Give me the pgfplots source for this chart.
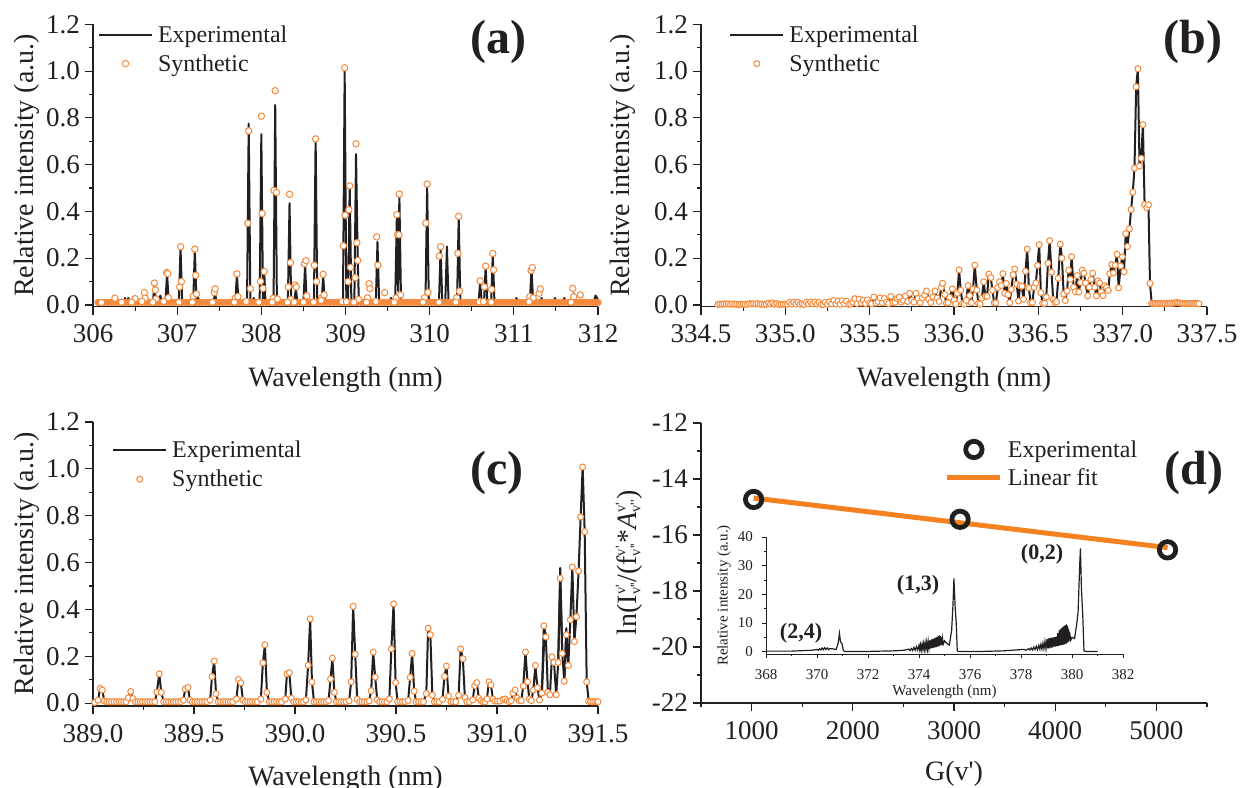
\documentclass[border=0pt]{standalone}
\usepackage{fontspec}
\setmainfont{Liberation Serif}
\usepackage{pgfplots}
\pgfplotsset{compat=1.18}
\usepackage{pgfplotstable}
\definecolor{ink}{HTML}{231F20}
\definecolor{org}{HTML}{F58A3C}
\definecolor{fitc}{HTML}{F58220}
\newcommand{\bigf}{\fontsize{27}{29}\selectfont}
\newcommand{\labf}{\fontsize{28}{30}\selectfont}
\newcommand{\legf}{\fontsize{24}{26}\selectfont}
\newcommand{\smf}{\fontsize{15}{17}\selectfont}
\newcommand{\pr}{\textquotesingle}
\newcommand{\lvl}{\rlap{\raisebox{11pt}{\fontsize{14.5}{15}\selectfont v\pr}}\raisebox{-4pt}{\fontsize{14.5}{15}\selectfont v\pr\pr}}
\pgfplotsset{
  panel/.style={scale only axis, axis lines=left, axis line style={-,line width=1.2pt,ink},
    tick style={line width=1.1pt,ink}, tick align=outside, major tick length=8pt, minor tick length=4pt,
    clip=false, text=ink,
    tick label style={font=\bigf,inner sep=0pt,text=ink},
    xticklabel style={yshift=-10pt}, yticklabel style={xshift=-5pt},
    every axis y label/.style={at={(axis description cs:0,0.5)},rotate=90,anchor=center},
    every axis x label/.style={at={(axis description cs:0.5,0)},anchor=center},
    label style={font=\labf,text=ink},
    legend cell align=left,
    legend image code/.code={\draw[mark repeat=2,mark phase=2,##1] plot coordinates {(0pt,0pt)(26.5pt,0pt)(53pt,0pt)};},
    legend style={draw=none,fill=none,font=\legf,text=ink,anchor=north west,inner sep=0pt,outer sep=0pt,row sep=7pt,
      /tikz/every odd column/.append style={column sep=3pt}}
  },
  speca/.style={panel,width=505pt,height=282.4pt,ymin=-.0073,ymax=1.2,
    ytick={0,.2,.4,.6,.8,1,1.2},yticklabels={0.0,0.2,0.4,0.6,0.8,1.0,1.2},minor ytick={.1,.3,.5,.7,.9,1.1},
    ylabel={Relative intensity (a.u.)},xlabel={Wavelength (nm)}},
  expl/.style={ink,line width=2pt,no marks,line join=round},
  syn/.style={only marks,mark=*,mark size=3pt,mark options={draw=org,fill=white,line width=1pt}},
}
\pgfplotstableread[row sep=\\]{x y\\
334.600 .002\\334.612 .004\\334.625 .003\\334.637 .005\\334.650 .004\\334.662 .005\\334.675 .003\\334.687 .005\\334.700 .003\\334.712 .003\\334.725 .002\\334.737 .003\\334.750 .003\\334.762 .003\\334.775 .003\\334.787 .006\\334.800 .004\\334.812 .006\\334.825 .004\\334.837 .006\\334.850 .003\\334.862 .004\\334.875 .002\\334.887 .003\\334.900 .008\\334.912 .004\\334.925 .009\\334.937 .003\\334.950 .006\\334.962 .002\\334.975 .003\\334.987 .003\\
335.000 .004\\335.012 .004\\335.025 .011\\335.037 .004\\335.050 .012\\335.062 .004\\335.075 .011\\335.087 .003\\335.100 .005\\335.112 .002\\335.125 .012\\335.137 .005\\335.150 .012\\335.162 .005\\335.175 .012\\335.187 .004\\335.200 .011\\335.212 .002\\335.225 .002\\335.237 .011\\335.250 .003\\335.262 .014\\335.275 .005\\335.287 .020\\335.300 .004\\335.312 .017\\335.325 .003\\335.337 .018\\335.350 .005\\335.362 .016\\335.375 .003\\335.387 .004\\335.400 .012\\335.412 .027\\335.425 .006\\335.437 .025\\335.450 .008\\335.462 .020\\335.475 .006\\335.487 .022\\335.500 .008\\335.512 .005\\335.525 .034\\335.537 .008\\335.550 .015\\335.562 .030\\335.575 .010\\335.587 .028\\335.600 .012\\335.612 .006\\335.625 .037\\335.637 .010\\335.650 .012\\335.662 .028\\335.675 .034\\335.687 .012\\335.700 .020\\335.712 .038\\335.725 .015\\335.737 .050\\335.750 .020\\335.762 .012\\335.775 .050\\335.787 .028\\335.800 .010\\335.812 .030\\335.825 .042\\335.837 .060\\335.850 .025\\335.862 .010\\335.875 .035\\335.887 .060\\335.900 .030\\335.912 .015\\335.925 .075\\335.932 .093\\335.945 .045\\335.955 .008\\335.965 .010\\335.975 .033\\335.990 .069\\
336.000 .021\\336.010 .004\\336.020 .050\\336.030 .150\\336.040 .063\\336.050 .007\\336.060 .004\\336.073 .020\\336.083 .083\\336.093 .040\\336.103 .010\\336.113 .069\\336.123 .170\\336.135 .064\\336.145 .007\\336.155 .004\\336.165 .029\\336.176 .099\\336.186 .037\\336.196 .037\\336.206 .132\\336.218 .117\\336.228 .063\\336.238 .009\\336.248 .009\\336.260 .074\\336.270 .099\\336.280 .083\\336.290 .134\\336.300 .050\\336.310 .092\\336.320 .044\\336.330 .010\\336.340 .067\\336.350 .129\\336.360 .154\\336.372 .089\\336.382 .017\\336.392 .082\\336.402 .080\\336.412 .024\\336.424 .144\\336.434 .239\\336.444 .073\\336.454 .009\\336.465 .011\\336.475 .076\\336.485 .094\\336.495 .169\\336.505 .258\\336.515 .053\\336.525 .007\\336.537 .007\\336.547 .034\\336.557 .179\\336.567 .275\\336.578 .140\\336.588 .023\\336.598 .011\\336.608 .014\\336.618 .114\\336.630 .260\\336.640 .200\\336.650 .047\\336.660 .019\\336.670 .060\\336.680 .149\\336.690 .110\\336.697 .207\\
336.709 .076\\336.720 .057\\336.730 .126\\336.740 .056\\336.750 .096\\336.760 .149\\336.770 .136\\336.780 .094\\336.792 .039\\336.802 .076\\336.812 .109\\336.822 .136\\336.834 .076\\336.844 .039\\336.853 .103\\336.863 .094\\336.873 .056\\336.883 .040\\336.893 .083\\336.904 .075\\336.915 .062\\336.923 .133\\336.935 .173\\336.945 .137\\336.956 .170\\336.966 .217\\336.976 .073\\336.988 .167\\336.998 .206\\337.008 .142\\337.018 .305\\337.028 .250\\337.040 .326\\337.050 .408\\337.060 .482\\337.070 .585\\337.080 .933\\337.090 1.010\\337.100 .594\\337.110 .627\\337.120 .771\\337.130 .429\\337.143 .416\\337.153 .429\\337.162 .092\\337.172 .007\\
337.182 .006\\337.192 .006\\337.202 .006\\337.212 .006\\337.222 .006\\337.232 .006\\337.242 .006\\337.252 .006\\337.262 .006\\337.272 .006\\337.282 .007\\337.292 .007\\337.302 .008\\337.312 .010\\337.322 .011\\337.332 .009\\337.342 .008\\337.352 .007\\337.362 .006\\337.372 .006\\337.382 .006\\337.392 .006\\337.402 .006\\337.412 .006\\337.422 .006\\337.432 .006\\337.442 .006\\337.452 .005\\
}\tabB
\pgfplotstableread[row sep=\\]{x y\\
389.008 .003\\389.025 .013\\389.035 .063\\389.046 .056\\389.056 .010\\389.068 .006\\389.080 .006\\389.092 .006\\389.104 .006\\389.116 .006\\389.128 .006\\389.140 .006\\389.152 .006\\389.164 .006\\389.175 .023\\389.187 .050\\389.197 .020\\389.210 .006\\389.222 .006\\389.234 .006\\389.246 .006\\389.258 .006\\389.270 .006\\389.282 .006\\389.294 .006\\389.306 .006\\389.316 .047\\389.328 .125\\389.338 .046\\389.350 .006\\389.362 .006\\389.374 .006\\389.386 .006\\389.398 .006\\389.410 .006\\389.422 .006\\389.434 .006\\389.447 .013\\389.457 .061\\389.470 .067\\389.480 .013\\389.492 .006\\389.504 .006\\389.516 .006\\389.528 .006\\389.540 .006\\389.552 .006\\389.564 .006\\389.580 .013\\389.589 .113\\389.600 .180\\389.609 .040\\389.620 .006\\389.632 .006\\389.644 .006\\389.656 .006\\389.668 .006\\389.680 .006\\389.692 .006\\389.710 .018\\389.720 .101\\389.732 .087\\389.742 .014\\389.754 .006\\389.766 .006\\389.778 .006\\389.790 .006\\389.802 .006\\389.814 .006\\389.831 .018\\389.841 .172\\389.851 .249\\389.861 .046\\389.873 .006\\389.885 .006\\389.897 .006\\389.909 .006\\389.921 .006\\389.933 .006\\389.952 .018\\389.960 .125\\389.972 .130\\389.982 .021\\389.994 .006\\390.006 .006\\390.018 .006\\390.030 .006\\390.042 .006\\390.054 .014\\390.065 .162\\390.075 .360\\390.084 .090\\390.094 .006\\390.106 .006\\390.118 .006\\390.130 .006\\390.142 .006\\390.154 .006\\390.166 .011\\390.176 .103\\390.185 .192\\390.195 .046\\390.205 .006\\390.217 .006\\390.229 .006\\390.241 .006\\390.253 .006\\390.268 .010\\390.278 .091\\390.288 .413\\390.298 .209\\390.308 .017\\390.320 .006\\390.332 .006\\390.344 .006\\390.356 .006\\390.367 .010\\390.377 .053\\390.387 .218\\390.397 .111\\390.407 .014\\390.419 .006\\390.431 .006\\390.443 .006\\390.455 .006\\390.467 .018\\390.477 .232\\390.488 .424\\390.498 .088\\390.508 .006\\390.520 .006\\390.532 .006\\390.544 .006\\390.560 .011\\390.570 .110\\390.580 .212\\390.590 .051\\390.600 .006\\390.612 .006\\390.624 .006\\390.636 .006\\390.650 .041\\390.659 .320\\390.670 .292\\390.680 .034\\390.690 .006\\390.702 .006\\390.714 .006\\390.730 .016\\390.740 .114\\390.750 .158\\390.760 .030\\390.772 .006\\390.784 .006\\390.796 .006\\390.810 .034\\390.820 .232\\390.831 .190\\390.841 .024\\390.851 .006\\390.863 .006\\390.880 .014\\390.889 .075\\390.900 .088\\390.910 .021\\390.920 .011\\390.930 .006\\390.940 .006\\390.950 .018\\390.960 .091\\390.970 .078\\390.980 .017\\390.990 .009\\391.002 .009\\391.014 .009\\391.030 .016\\391.040 .018\\391.050 .011\\391.060 .006\\391.070 .011\\391.080 .043\\391.090 .056\\391.100 .021\\391.110 .011\\391.120 .011\\391.130 .073\\391.141 .218\\391.151 .091\\391.160 .018\\391.170 .011\\391.180 .056\\391.190 .161\\391.200 .066\\391.210 .014\\391.222 .043\\391.232 .330\\391.242 .283\\391.252 .046\\391.262 .036\\391.272 .198\\391.282 .174\\391.293 .036\\391.303 .174\\391.313 .533\\391.323 .212\\391.333 .094\\391.343 .292\\391.353 .161\\391.363 .356\\391.373 .581\\391.383 .263\\391.393 .369\\391.404 .564\\391.414 .795\\391.424 1.008\\391.434 .732\\391.444 .091\\391.454 .008\\391.464 .006\\391.474 .006\\391.484 .006\\391.494 .006\\391.500 .006\\
}\tabC
\begin{document}
\begin{tikzpicture}
\path[use as bounding box] (0,0) rectangle (1241pt,787pt);
% ---------- (a)
\begin{axis}[speca,at={(93pt,480.3pt)},anchor=south west,xmin=306,xmax=312,
  xtick={306,...,312},xticklabels={306,307,308,309,310,311,312},minor xtick={306.5,307.5,308.5,309.5,310.5,311.5},
  xlabel style={yshift=-73pt},ylabel style={yshift=66pt},
  legend style={at={(axis description cs:.01,1.003)}}]
\addplot[expl] coordinates {(306.05,.008)(306.36,.008)(306.38,.03)(306.40,.008)(306.42,.03)(306.44,.008)(306.48,.008)(306.50,.02)(306.52,.008)(306.59,.008)(306.61,.04)(306.63,.008)(306.71,.008)(306.73,.08)(306.75,.008)(306.78,.008)(306.80,.04)(306.82,.008)(306.86,.008)(306.88,.135)(306.90,.008)(307.02,.008)(307.04,.245)(307.06,.008)(307.19,.008)(307.21,.235)(307.23,.008)(307.25,.03)(307.27,.008)(307.43,.008)(307.45,.05)(307.47,.008)(307.69,.008)(307.71,.13)(307.73,.008)(307.83,.008)(307.85,.775)(307.87,.008)(307.89,.008)(307.91,.03)(307.93,.008)(307.98,.008)(308.00,.73)(308.02,.008)(308.035,.14)(308.05,.008)(308.145,.008)(308.165,.855)(308.185,.008)(308.315,.008)(308.335,.435)(308.355,.008)(308.39,.008)(308.41,.07)(308.43,.008)(308.50,.008)(308.52,.17)(308.54,.008)(308.625,.008)(308.645,.71)(308.665,.008)(308.715,.008)(308.735,.125)(308.755,.008)(308.97,.008)(308.99,1.0)(309.01,.008)(309.03,.008)(309.05,.51)(309.07,.008)(309.105,.008)(309.125,.645)(309.145,.19)(309.16,.008)(309.26,.008)(309.28,.04)(309.30,.008)(309.36,.008)(309.38,.27)(309.40,.008)(309.52,.008)(309.54,.03)(309.56,.008)(309.59,.008)(309.61,.38)(309.625,.06)(309.64,.47)(309.66,.008)(309.84,.008)(309.86,.02)(309.88,.008)(309.95,.008)(309.97,.51)(309.99,.008)(310.11,.008)(310.13,.24)(310.15,.008)(310.185,.008)(310.205,.25)(310.225,.008)(310.325,.008)(310.345,.375)(310.365,.008)(310.58,.008)(310.60,.1)(310.62,.008)(310.645,.008)(310.665,.16)(310.685,.008)(310.73,.008)(310.75,.215)(310.77,.008)(310.92,.008)(310.94,.02)(310.96,.008)(311.01,.008)(311.03,.03)(311.05,.008)(311.19,.008)(311.21,.155)(311.23,.008)(311.31,.008)(311.33,.03)(311.35,.008)(311.47,.008)(311.49,.03)(311.51,.008)(311.58,.008)(311.60,.03)(311.62,.008)(311.63,.008)(311.65,.02)(311.67,.008)(311.69,.008)(311.71,.05)(311.73,.008)(311.95,.008)(311.97,.04)(311.99,.03)(312,.02)};
\addlegendentry{Experimental}
\addplot[only marks,forget plot,mark=*,mark size=3.1pt,mark options={draw=org,fill=org,line width=.9pt}] coordinates {
(306.06,.011)(306.10,.011)(306.14,.011)(306.18,.011)(306.22,.011)(306.26,.011)(306.30,.011)(306.34,.011)(306.38,.011)(306.42,.011)(306.46,.011)(306.50,.011)(306.54,.011)(306.58,.011)(306.62,.011)(306.66,.011)(306.70,.011)(306.74,.011)(306.78,.011)(306.82,.011)(306.86,.011)(306.90,.011)(306.94,.011)(306.98,.011)(307.02,.011)(307.06,.011)(307.10,.011)(307.14,.011)(307.18,.011)(307.22,.011)(307.26,.011)(307.30,.011)(307.34,.011)(307.38,.011)(307.42,.011)(307.46,.011)(307.50,.011)(307.54,.011)(307.58,.011)(307.62,.011)(307.66,.011)(307.70,.011)(307.74,.011)(307.78,.011)(307.82,.011)(307.86,.011)(307.90,.011)(307.94,.011)(307.98,.011)
(308.02,.011)(308.06,.011)(308.10,.011)(308.14,.011)(308.18,.011)(308.22,.011)(308.26,.011)(308.30,.011)(308.34,.011)(308.38,.011)(308.42,.011)(308.46,.011)(308.50,.011)(308.54,.011)(308.58,.011)(308.62,.011)(308.66,.011)(308.70,.011)(308.74,.011)(308.78,.011)(308.82,.011)(308.86,.011)(308.90,.011)(308.94,.011)(308.98,.011)(309.02,.011)(309.06,.011)(309.10,.011)(309.14,.011)(309.18,.011)(309.22,.011)(309.26,.011)(309.30,.011)(309.34,.011)(309.38,.011)(309.42,.011)(309.46,.011)(309.50,.011)(309.54,.011)(309.58,.011)(309.62,.011)(309.66,.011)(309.70,.011)(309.74,.011)(309.78,.011)(309.82,.011)(309.86,.011)(309.90,.011)(309.94,.011)(309.98,.011)
(310.02,.011)(310.06,.011)(310.10,.011)(310.14,.011)(310.18,.011)(310.22,.011)(310.26,.011)(310.30,.011)(310.34,.011)(310.38,.011)(310.42,.011)(310.46,.011)(310.50,.011)(310.54,.011)(310.58,.011)(310.62,.011)(310.66,.011)(310.70,.011)(310.74,.011)(310.78,.011)(310.82,.011)(310.86,.011)(310.90,.011)(310.94,.011)(310.98,.011)(311.02,.011)(311.06,.011)(311.10,.011)(311.14,.011)(311.18,.011)(311.22,.011)(311.26,.011)(311.30,.011)(311.34,.011)(311.38,.011)(311.42,.011)(311.46,.011)(311.50,.011)(311.54,.011)(311.58,.011)(311.62,.011)(311.66,.011)(311.70,.011)(311.74,.011)(311.78,.011)(311.82,.011)(311.86,.011)(311.90,.011)(311.94,.011)(311.98,.011)(312.0,.011)};
\addplot[syn,mark size=3.2pt] coordinates {(306.26,.029)(306.50,.027)(306.61,.053)(306.62,.029)(306.73,.094)(306.74,.064)(306.75,.026)(306.875,.139)(306.887,.134)(306.895,.031)(307.03,.077)(307.04,.249)(307.05,.10)(307.19,.037)(307.21,.239)(307.22,.127)(307.23,.047)(307.44,.053)(307.45,.069)(307.69,.029)(307.71,.133)(307.72,.036)(307.84,.349)(307.85,.744)(307.87,.07)(307.99,.101)(308.00,.807)(308.01,.391)(308.02,.071)(308.035,.143)(308.14,.029)(308.15,.49)(308.165,.916)(308.18,.481)(308.19,.026)(308.32,.077)(308.335,.473)(308.345,.181)(308.35,.024)(308.40,.086)(308.415,.077)(308.51,.176)(308.53,.19)(308.54,.039)(308.63,.17)(308.645,.71)(308.655,.10)(308.715,.03)(308.735,.131)(308.745,.043)(308.975,.253)(308.99,1.014)(308.995,.384)(309.03,.10)(309.04,.407)(309.05,.509)(309.06,.161)(309.115,.117)(309.125,.689)(309.135,.266)(309.145,.19)(309.155,.024)(309.26,.03)(309.28,.091)(309.29,.07)(309.37,.291)(309.385,.17)(309.465,.053)(309.60,.03)(309.61,.386)(309.62,.301)(309.635,.30)(309.64,.474)(309.655,.043)(309.94,.031)(309.955,.35)(309.97,.517)(309.98,.054)(310.115,.209)(310.13,.249)(310.32,.03)(310.335,.221)(310.345,.379)(310.355,.059)(310.60,.103)(310.65,.077)(310.665,.166)(310.735,.067)(310.75,.22)(310.76,.15)(311.19,.036)(311.205,.147)(311.22,.16)(311.23,.03)(311.30,.05)(311.315,.069)(311.70,.071)(311.71,.035)(311.79,.043)
(306.10,.01)(306.34,.012)(306.46,.012)(306.58,.015)(306.71,.012)(306.84,.015)(307.02,.012)(307.18,.012)(307.42,.012)(307.68,.012)(307.82,.015)(307.97,.012)(308.13,.012)(308.31,.012)(308.39,.012)(308.50,.012)(308.62,.012)(308.71,.02)(308.96,.014)(309.01,.014)(309.10,.012)(309.25,.012)(309.36,.015)(309.58,.012)(309.92,.012)(310.11,.012)(310.31,.012)(310.59,.014)(310.64,.015)(310.73,.012)(311.18,.014)(311.68,.012)};
\addlegendentry{Synthetic}
\end{axis}
% ---------- (b)
\begin{axis}[speca,at={(701pt,480.3pt)},anchor=south west,width=506pt,xmin=334.5,xmax=337.5,
  xtick={334.5,335,335.5,336,336.5,337,337.5},xticklabels={334.5,335.0,335.5,336.0,336.5,337.0,337.5},
  minor xtick={334.75,335.25,335.75,336.25,336.75,337.25},
  xlabel style={yshift=-73pt},ylabel style={yshift=78pt},
  legend style={at={(axis description cs:.056,1.003)}}]
\addplot[expl] table[x=x,y=y] {\tabB};
\addlegendentry{Experimental}
\addplot[syn] table[x=x,y=y] {\tabB};
\addlegendentry{Synthetic}
\end{axis}
% ---------- (c)
\begin{axis}[speca,at={(93pt,81pt)},anchor=south west,height=284pt,ymin=-.012,xmin=389,xmax=391.5,
  xtick={389,389.5,390,390.5,391,391.5},xticklabels={389.0,389.5,390.0,390.5,391.0,391.5},
  minor xtick={389.25,389.75,390.25,390.75,391.25},
  xlabel style={yshift=-73pt},ylabel style={yshift=66pt},
  legend style={at={(axis description cs:.038,.94)}}]
\addplot[expl] table[x=x,y=y] {\tabC};
\addlegendentry{Experimental}
\addplot[expl,forget plot] coordinates {(391.303,.174)(391.313,.577)(391.323,.212)};
\addplot[expl,forget plot] coordinates {(391.333,.094)(391.343,.32)(391.353,.161)};
\addplot[expl,forget plot] coordinates {(391.222,.043)(391.236,.31)(391.246,.283)};
\addplot[syn] table[x=x,y=y] {\tabC};
\addlegendentry{Synthetic}
\end{axis}
% ---------- (d)
\begin{axis}[panel,at={(701pt,84pt)},anchor=south west,width=506pt,height=280pt,xmin=500,xmax=5500,ymin=-22,ymax=-12,
  xtick={1000,2000,3000,4000,5000},xticklabels={1000,2000,3000,4000,5000},minor xtick={500,1500,2500,3500,4500,5500},
  ytick={-22,-20,-18,-16,-14,-12},yticklabels={-22,-20,-18,-16,-14,-12},minor ytick={-21,-19,-17,-15,-13},
  xlabel={G(v\pr)},xlabel style={yshift=-71pt},
  ylabel={ln(I\lvl/(f\lvl*\textit{A}\lvl)},ylabel style={yshift=72pt},
  legend style={at={(axis description cs:.482,.945)},row sep=6pt}]
\addplot[only marks,mark=o,mark size=8.2pt,mark options={draw=ink,line width=4.8pt}] coordinates {(1020,-14.73)(3060,-15.44)(5110,-16.53)};
\addlegendentry{Experimental}
\addplot[fitc,line width=5pt,no marks] coordinates {(1020,-14.68)(5110,-16.45)};
\addlegendentry{Linear fit}
\end{axis}
% ---------- inset
\begin{axis}[panel,at={(766pt,133pt)},anchor=south west,width=357pt,height=117pt,xmin=368,xmax=382,ymin=-.8,ymax=40,
  axis line style={-,line width=.9pt,ink},tick style={line width=.8pt,ink},major tick length=4pt,minor tick length=2pt,
  tick label style={font=\smf,inner sep=0pt,text=ink},label style={font=\smf,text=ink},
  xticklabel style={yshift=-1pt},yticklabel style={xshift=-4pt},
  xtick={368,370,372,374,376,378,380,382},xticklabels={368,370,372,374,376,378,380,382},
  minor xtick={369,371,373,375,377,379,381},ytick={0,10,20,30,40},yticklabels={0,10,20,30,40},minor ytick={5,15,25,35},
  xlabel={Wavelength (nm)},xlabel style={yshift=-38pt},
  ylabel={Relative intensity (a.u.)},ylabel style={yshift=42pt}]
\addplot[ink,line width=1.2pt,no marks] coordinates {(368,.2)(369,.2)(369.5,.4)(369.8,.5)(370,.8)(370.05,.5)(370.1,1)(370.15,.6)(370.2,1.3)(370.25,.7)(370.3,1.4)(370.35,.8)(370.4,1.3)(370.45,.7)(370.5,1.1)(370.6,1)(370.75,.8)(370.83,3)(370.88,6.4)(370.92,3.5)(370.98,2.8)(371.03,.5)(371.08,.1)(372,.1)(373,.3)(373.4,.5)(373.6,.9)(373.65,.4)(373.7,1.1)(373.75,.4)(373.8,1.5)(373.85,.5)(373.9,1.8)(373.95,.5)(374,2.2)(374.03,.6)(374.06,2.4)(374.09,.6)(374.12,2.6)(374.15,.8)(374.18,2.8)(374.21,.8)(374.24,3.1)(374.27,.9)(374.3,3.3)(374.33,.9)(374.36,3.6)(374.39,1.1)(374.42,3.9)(374.45,1.1)(374.48,4.2)(374.5,1.3)(374.52,4.4)(374.54,1.3)(374.56,4.5)(374.58,1.4)(374.6,4.6)(374.62,1.5)(374.64,4.8)(374.66,1.5)(374.68,5)(374.7,1.7)(374.72,5.2)(374.74,1.9)(374.76,5.5)(374.78,1.9)(374.8,5.7)(374.82,2.2)(374.84,5.4)(374.86,2.2)(374.88,5)(374.9,2.4)(374.92,4.6)(374.95,2.6)(375.0,3.8)(375.1,2.8)(375.19,2.3)(375.28,7.5)(375.33,16)(375.37,25.6)(375.42,15)(375.46,10)(375.5,.3)(375.55,.1)(376.5,.1)(377.3,.3)(377.8,.6)(378.1,.8)(378.2,.5)(378.3,1.1)(378.35,.6)(378.4,1.3)(378.45,.6)(378.5,1.6)(378.55,.7)(378.6,1.9)(378.65,.7)(378.7,2.2)(378.74,.9)(378.78,2.6)(378.82,.9)(378.86,3)(378.9,1)(378.94,3.6)(378.98,1)(379.02,4.4)(379.05,1.2)(379.08,4.6)(379.11,1.2)(379.14,4.8)(379.17,1.4)(379.2,4.9)(379.23,1.4)(379.26,5)(379.29,1.8)(379.32,5.1)(379.35,1.8)(379.38,5.2)(379.41,2)(379.44,6.5)(379.47,2)(379.5,7.4)(379.52,2.2)(379.54,7.8)(379.56,2.2)(379.58,8.1)(379.6,2.4)(379.62,8.4)(379.64,2.4)(379.66,8.7)(379.68,2.6)(379.7,9)(379.72,2.6)(379.74,9.3)(379.76,2.8)(379.78,9.5)(379.8,3)(379.82,9)(379.84,3.4)(379.86,8)(379.88,3.6)(379.9,7)(379.95,4)(380,5)(380.1,4.6)(380.18,9.3)(380.24,14)(380.3,30)(380.33,36)(380.37,22)(380.42,13)(380.47,.3)(380.55,.1)(381,.1)};
\end{axis}
% ---------- panel letters and inset labels
\node[font=\bfseries\fontsize{48}{50}\selectfont,text=ink] at (498pt,745pt) {(a)};
\node[font=\bfseries\fontsize{48}{50}\selectfont,text=ink] at (1193pt,745pt) {(b)};
\node[font=\bfseries\fontsize{48}{50}\selectfont,text=ink] at (497pt,314pt) {(c)};
\node[font=\bfseries\fontsize{48}{50}\selectfont,text=ink] at (1194pt,314pt) {(d)};
\node[font=\bfseries\fontsize{22}{24}\selectfont,text=ink] at (801pt,154pt) {(2,4)};
\node[font=\bfseries\fontsize{22}{24}\selectfont,text=ink] at (918pt,202pt) {(1,3)};
\node[font=\bfseries\fontsize{22}{24}\selectfont,text=ink] at (1042pt,233pt) {(0,2)};
\end{tikzpicture}
\end{document}
